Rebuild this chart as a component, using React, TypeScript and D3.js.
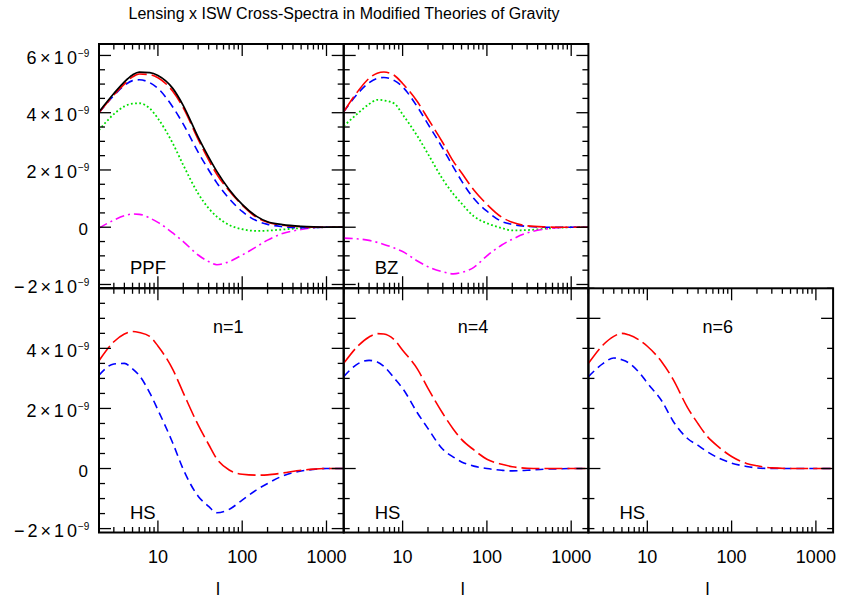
import React from 'react';
import * as d3 from 'd3';

// multipole grid (l)
const ell = [2, 3, 4, 5, 6, 8, 10, 15, 20, 30, 40, 50, 70, 100, 150, 200, 300, 500, 700, 1000, 1600];

// values in units of 1e-9
// PPF panel
const ppfBlack = [4.03, 4.67, 5.08, 5.32, 5.42, 5.40, 5.30, 4.85, 4.25, 3.15, 2.45, 1.95, 1.32, 0.80, 0.37, 0.19, 0.09, 0.03, 0.01, 0, 0];
const ppfRed = [4.00, 4.62, 5.00, 5.25, 5.35, 5.33, 5.22, 4.75, 4.17, 3.07, 2.35, 1.85, 1.27, 0.77, 0.33, 0.17, 0.07, 0.02, 0, 0, 0];
const ppfBlue = [4.00, 4.60, 4.95, 5.12, 5.15, 5.05, 4.85, 4.20, 3.60, 2.62, 2.00, 1.55, 1.00, 0.55, 0.22, 0.10, 0.02, -0.02, -0.01, 0, 0];
const ppfGreen = [3.39, 3.95, 4.22, 4.32, 4.33, 4.15, 3.80, 2.93, 2.17, 1.18, 0.66, 0.37, 0.08, -0.07, -0.13, -0.12, -0.08, -0.03, -0.01, 0, 0];
const ppfMagenta = [-0.03, 0.25, 0.40, 0.46, 0.45, 0.32, 0.17, -0.20, -0.50, -0.97, -1.20, -1.31, -1.20, -0.97, -0.67, -0.45, -0.22, -0.08, -0.02, 0, 0];
// BZ panel
const bzRed = [4.03, 4.78, 5.20, 5.38, 5.42, 5.30, 5.02, 4.38, 3.79, 2.95, 2.30, 1.90, 1.30, 0.80, 0.35, 0.17, 0.05, 0.01, 0, 0, 0];
const bzBlue = [4.03, 4.70, 5.05, 5.20, 5.23, 5.12, 4.90, 4.20, 3.60, 2.75, 2.10, 1.62, 1.00, 0.56, 0.20, 0.10, 0.03, 0, 0, 0, 0];
const bzGreen = [3.53, 4.00, 4.30, 4.45, 4.43, 4.32, 3.94, 3.18, 2.56, 1.67, 1.16, 0.83, 0.38, 0.14, -0.03, -0.11, -0.10, -0.05, -0.02, 0, 0];
const bzMagenta = [-0.38, -0.41, -0.46, -0.53, -0.60, -0.73, -0.85, -1.18, -1.38, -1.56, -1.63, -1.58, -1.40, -1.00, -0.62, -0.42, -0.20, -0.06, -0.02, 0, 0];
// HS panels
const hs1Red = [3.59, 4.22, 4.48, 4.56, 4.53, 4.40, 4.08, 3.30, 2.52, 1.45, 0.80, 0.32, -0.05, -0.19, -0.22, -0.21, -0.15, -0.06, -0.02, 0, 0];
const hs1Blue = [3.11, 3.48, 3.50, 3.32, 3.10, 2.52, 1.95, 0.85, -0.03, -0.92, -1.26, -1.47, -1.36, -1.05, -0.70, -0.50, -0.25, -0.08, -0.03, 0, 0];
const hs4Red = [3.50, 4.10, 4.38, 4.49, 4.48, 4.28, 3.94, 3.31, 2.67, 1.83, 1.31, 0.97, 0.62, 0.31, 0.14, 0.06, 0.01, 0, 0, 0, 0];
const hs4Blue = [3.06, 3.50, 3.60, 3.55, 3.40, 3.00, 2.67, 1.85, 1.33, 0.64, 0.38, 0.22, 0.08, 0, -0.06, -0.08, -0.06, -0.02, -0.01, 0, 0];
const hs6Red = [3.50, 4.12, 4.40, 4.50, 4.45, 4.28, 4.07, 3.53, 2.99, 2.03, 1.49, 1.11, 0.72, 0.40, 0.17, 0.09, 0.02, 0, 0, 0, 0];
const hs6Blue = [3.06, 3.50, 3.68, 3.62, 3.52, 3.20, 2.85, 2.23, 1.60, 1.00, 0.77, 0.58, 0.35, 0.18, 0.07, 0.02, 0, 0, 0, 0, 0];

const xMajorTicks = [10, 100, 1000];
const xTickLabels = ['10', '100', '1000'];
const title = 'Lensing x ISW Cross-Spectra in Modified Theories of Gravity';

const W = 841;
const H = 600;
const COLS = [99, 343.7, 588.4];
const ROWS = [44, 288.3];
const PW = 244.7;
const PH = 244.2;
const FONT = '"Liberation Sans", Arial, Helvetica, sans-serif';

const STY = {
  black: { color: '#000000', dash: 'none', width: 1.7 },
  red: { color: '#ff0000', dash: '18,5', width: 1.6 },
  blue: { color: '#0000ff', dash: '8,5', width: 1.6 },
  green: { color: '#00e000', dash: '1.8,2.4', width: 1.8 },
  magenta: { color: '#ff00ff', dash: '9,4,2,4', width: 1.6 },
};

type Series = { values: number[]; s: { color: string; dash: string; width: number } };
type YLabel = { v: number; main: string; sup: string };
type PanelSpec = {
  id: string;
  col: number;
  row: number;
  yDomain: [number, number];
  yMinor: number;
  yMajor: number;
  series: Series[];
  label: string;
  nLabel?: string;
  yLabels?: YLabel[];
  xLabels: boolean;
};

const topLabels: YLabel[] = [
  { v: 6, main: '6×10', sup: '−9' },
  { v: 4, main: '4×10', sup: '−9' },
  { v: 2, main: '2×10', sup: '−9' },
  { v: 0, main: '0', sup: '' },
  { v: -2, main: '−2×10', sup: '−9' },
];
const bottomLabels: YLabel[] = topLabels.slice(1);

const panels: PanelSpec[] = [
  {
    id: 'ppf', col: 0, row: 0, yDomain: [-2.13, 6.4], yMinor: 0.5, yMajor: 2, label: 'PPF',
    series: [
      { values: ppfGreen, s: STY.green },
      { values: ppfMagenta, s: STY.magenta },
      { values: ppfBlue, s: STY.blue },
      { values: ppfRed, s: STY.red },
      { values: ppfBlack, s: STY.black },
    ],
    yLabels: topLabels, xLabels: false,
  },
  {
    id: 'bz', col: 1, row: 0, yDomain: [-2.13, 6.4], yMinor: 0.5, yMajor: 2, label: 'BZ',
    series: [
      { values: bzGreen, s: STY.green },
      { values: bzMagenta, s: STY.magenta },
      { values: bzBlue, s: STY.blue },
      { values: bzRed, s: STY.red },
    ],
    xLabels: false,
  },
  {
    id: 'hs1', col: 0, row: 1, yDomain: [-2.13, 6.0], yMinor: 0.5, yMajor: 2, label: 'HS', nLabel: 'n=1',
    series: [
      { values: hs1Blue, s: STY.blue },
      { values: hs1Red, s: STY.red },
    ],
    yLabels: bottomLabels, xLabels: true,
  },
  {
    id: 'hs4', col: 1, row: 1, yDomain: [-2.13, 6.0], yMinor: 1, yMajor: 5, label: 'HS', nLabel: 'n=4',
    series: [
      { values: hs4Blue, s: STY.blue },
      { values: hs4Red, s: STY.red },
    ],
    xLabels: true,
  },
  {
    id: 'hs6', col: 2, row: 1, yDomain: [-2.13, 6.0], yMinor: 1, yMajor: 5, label: 'HS', nLabel: 'n=6',
    series: [
      { values: hs6Blue, s: STY.blue },
      { values: hs6Red, s: STY.red },
    ],
    xLabels: true,
  },
];

function Panel({ p }: { p: PanelSpec }) {
  const x0 = COLS[p.col];
  const y0 = ROWS[p.row];
  const x = d3.scaleLog().domain([2, 1600]).range([x0, x0 + PW]);
  const y = d3.scaleLinear().domain(p.yDomain).range([y0 + PH, y0]);
  const line = d3
    .line<number>()
    .x((_, i) => x(ell[i]))
    .y((d) => y(d))
    .curve(d3.curveMonotoneX);

  const xTicks: { v: number; major: boolean }[] = [];
  for (const dec of [1, 10, 100, 1000]) {
    for (let m = 1; m <= 9; m++) {
      const v = dec * m;
      if (v < 2 || v > 1600) continue;
      xTicks.push({ v, major: m === 1 });
    }
  }
  const yTicks: { v: number; major: boolean }[] = [];
  const start = Math.ceil(p.yDomain[0] / p.yMinor) * p.yMinor;
  for (let v = start; v <= p.yDomain[1] + 1e-9; v += p.yMinor) {
    const vv = Math.round(v * 1000) / 1000;
    const major = Math.abs(vv / p.yMajor - Math.round(vv / p.yMajor)) < 1e-6;
    yTicks.push({ v: vv, major });
  }
  const clipId = `clip-${p.id}`;
  const tickW = 1.3;
  return (
    <g>
      <defs>
        <clipPath id={clipId}>
          <rect x={x0} y={y0} width={PW} height={PH} />
        </clipPath>
      </defs>
      <g clipPath={`url(#${clipId})`}>
        {p.series.map((s, i) => (
          <path
            key={i}
            d={line(s.values) || ''}
            fill="none"
            stroke={s.s.color}
            strokeWidth={s.s.width}
            strokeDasharray={s.s.dash}
          />
        ))}
      </g>
      {xTicks.map((t, i) => {
        const len = t.major ? 12 : 5.5;
        const xx = x(t.v);
        return (
          <g key={'x' + i} stroke="#000" strokeWidth={tickW}>
            <line x1={xx} x2={xx} y1={y0 + PH} y2={y0 + PH - len} />
            <line x1={xx} x2={xx} y1={y0} y2={y0 + len} />
          </g>
        );
      })}
      {yTicks.map((t, i) => {
        const len = t.major ? 12 : 6;
        const yy = y(t.v);
        return (
          <g key={'y' + i} stroke="#000" strokeWidth={tickW}>
            <line x1={x0} x2={x0 + len} y1={yy} y2={yy} />
            <line x1={x0 + PW} x2={x0 + PW - len} y1={yy} y2={yy} />
          </g>
        );
      })}
      <rect x={x0} y={y0} width={PW} height={PH} fill="none" stroke="#000" strokeWidth={2} />
      <text x={x0 + 31} y={y0 + PH - 14} fontSize={18.5} fontFamily={FONT}>{p.label}</text>
      {p.nLabel && (
        <text x={x0 + 114} y={y0 + 45} fontSize={18} fontFamily={FONT}>{p.nLabel}</text>
      )}
      {p.yLabels &&
        p.yLabels.map((l, i) => {
          const yy = y(l.v);
          if (!l.sup) {
            return (
              <text key={'yl' + i} x={88} y={yy + 8} textAnchor="end" fontSize={17} fontFamily={FONT}>
                {l.main}
              </text>
            );
          }
          return (
            <g key={'yl' + i} fontFamily={FONT}>
              <text x={77} y={yy + 8.5} textAnchor="end" fontSize={18} textLength={12.6 * l.main.length} lengthAdjust="spacing">
                {l.main}
              </text>
              <text x={78} y={yy + 1.5} fontSize={10}>{l.sup}</text>
            </g>
          );
        })}
      {p.xLabels && (
        <g fontFamily={FONT} fontSize={18} textAnchor="middle">
          {xMajorTicks.map((v, i) => (
            <text key={'xl' + i} x={x(v)} y={563}>{xTickLabels[i]}</text>
          ))}
          <text x={x0 + 119} y={595}>l</text>
        </g>
      )}
    </g>
  );
}

export default function App() {
  return (
    <svg
      width={W}
      height={H}
      viewBox={`0 0 ${W} ${H}`}
      style={{ position: 'absolute', left: 0, top: 0, background: '#fff' }}
    >
      <rect x={0} y={0} width={W} height={H} fill="#fff" />
      <text x={344} y={19} textAnchor="middle" fontSize={16} fontFamily={FONT}>{title}</text>
      {panels.map((p) => (
        <Panel key={p.id} p={p} />
      ))}
    </svg>
  );
}
